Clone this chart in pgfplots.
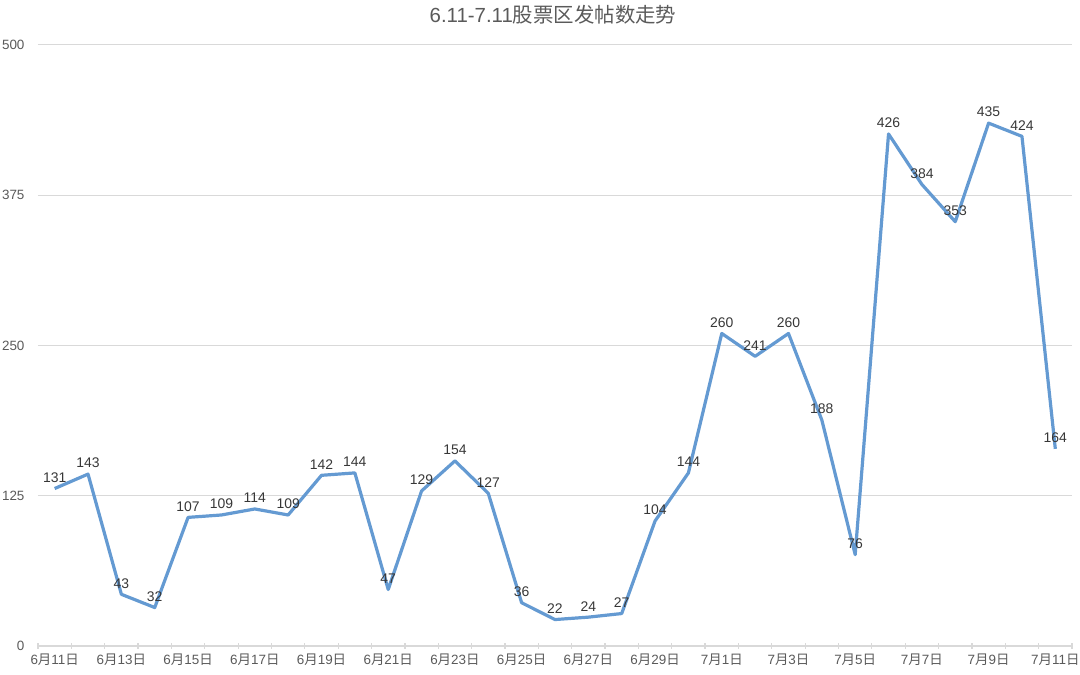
\documentclass[border=0pt]{standalone}
\usepackage{pgfplots}
\pgfplotsset{compat=1.18}
\usepackage{fontspec}
\setmainfont{Liberation Sans}
\newfontfamily\cjk{Noto Sans CJK SC}
\definecolor{linec}{RGB}{100,154,210}
\definecolor{txt}{RGB}{55,55,55}
\definecolor{ticktxt}{RGB}{90,90,90}
\definecolor{gridc}{RGB}{217,217,217}
\newcommand{\dd}[2]{#1{\cjk 月}#2{\cjk 日}}
\begin{document}
\begin{tikzpicture}
\path[use as bounding box] (0,0) rectangle (1080bp,675bp);
\begin{axis}[
  at={(38bp,29bp)}, anchor=south west,
  scale only axis, width=1034bp, height=601bp,
  xmin=-0.5, xmax=30.5, ymin=0, ymax=500,
  ytick={0,125,250,375,500},
  xtick={0,2,...,30},
  xticklabels={\dd{6}{11},\dd{6}{13},\dd{6}{15},\dd{6}{17},\dd{6}{19},\dd{6}{21},\dd{6}{23},\dd{6}{25},\dd{6}{27},\dd{6}{29},\dd{7}{1},\dd{7}{3},\dd{7}{5},\dd{7}{7},\dd{7}{9},\dd{7}{11}},
  minor xtick={-0.5,0.5,...,30.5},
  major tick length=0pt,
  minor tick length=6bp,
  tick align=outside,
  axis x line=bottom,
  axis y line=left,
  x axis line style={draw=gridc, line width=1.2bp, -},
  y axis line style={draw=none},
  minor tick style={draw=gridc, line width=1.2bp},
  ytick style={draw=none},
  ymajorgrids,
  grid style={draw=gridc, line width=1bp},
  /pgf/number format/assume math mode=true,
  tick label style={font=\fontsize{13.5}{13.5}\selectfont, text=ticktxt},
  xticklabel style={yshift=-4bp},
  yticklabel style={xshift=-10bp},
  nodes near coords,
  nodes near coords style={font=\fontsize{14}{14}\selectfont, text=txt, anchor=south, inner sep=0pt, yshift=4.5bp},
  clip=false,
]
\addplot[color=linec, line width=3.2bp, line join=round, mark=none] coordinates {
(0,131) (1,143) (2,43) (3,32) (4,107) (5,109) (6,114) (7,109) (8,142) (9,144)
(10,47) (11,129) (12,154) (13,127) (14,36) (15,22) (16,24) (17,27) (18,104) (19,144)
(20,260) (21,241) (22,260) (23,188) (24,76) (25,426) (26,384) (27,353) (28,435) (29,424)
(30,164)
};
\end{axis}
\node[font=\fontsize{20.5}{20.5}\selectfont, text=ticktxt] at (553bp,660bp) {6.11-7.11{\cjk 股票区发帖数走势}};
\end{tikzpicture}
\end{document}
